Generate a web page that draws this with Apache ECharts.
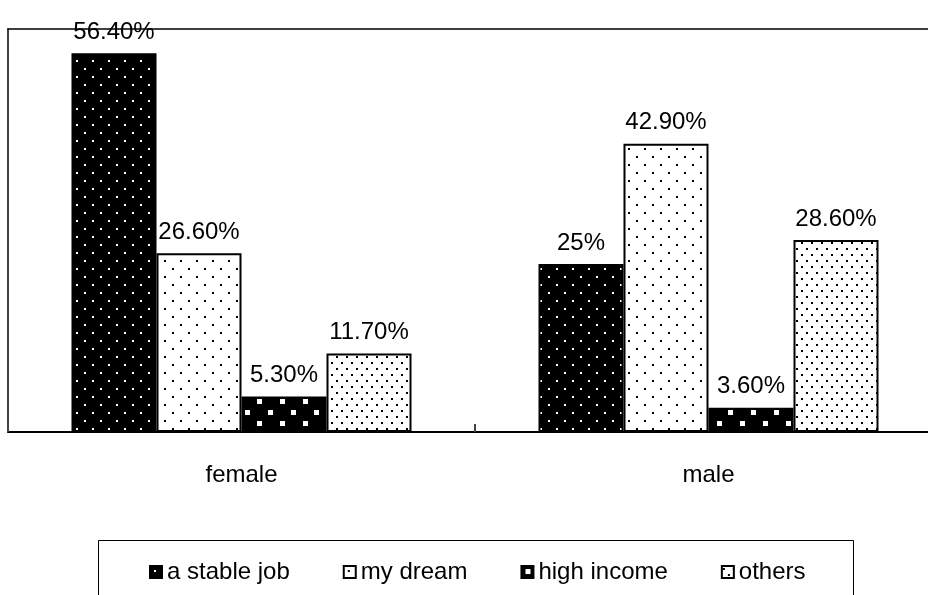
<!DOCTYPE html>
<html>
<head>
<meta charset="utf-8">
<script src="https://cdn.jsdelivr.net/npm/echarts@6/dist/echarts.min.js"></script>
<style>html,body{margin:0;padding:0;background:#fff;overflow:hidden;width:928px;height:595px}#c{width:944px;height:595px}</style>
</head>
<body>
<div id="c"></div>
<script>
var categories = ['female', 'male'];
var seriesNames = ['a stable job', 'my dream', 'high income', 'others'];
var stableJob = [56.4, 25];
var myDream = [26.6, 42.9];
var highIncome = [5.3, 3.6];
var others = [11.7, 28.6];
var stableJobLabels = ['56.40%', '25%'];
var myDreamLabels = ['26.60%', '42.90%'];
var highIncomeLabels = ['5.30%', '3.60%'];
var othersLabels = ['11.70%', '28.60%'];

function makePattern(w, h, bg, fg, dots, size) {
  var c = document.createElement('canvas');
  c.width = w; c.height = h;
  var ctx = c.getContext('2d');
  ctx.fillStyle = bg; ctx.fillRect(0, 0, w, h);
  ctx.fillStyle = fg;
  dots.forEach(function (d) { ctx.fillRect(d[0], d[1], size, size); });
  return { image: c, repeat: 'repeat' };
}
var patStable = makePattern(16, 16, '#000', '#fff', [[4, 4], [12, 12]], 2);
var patDream = makePattern(16, 16, '#fff', '#000', [[4, 4], [12, 12]], 2);
var patHigh = makePattern(23, 22, '#000', '#fff', [[4, 3], [15, 14]], 5);
var patOthers = makePattern(10, 12, '#fff', '#000', [[1, 2], [6, 8]], 2);

var font = 'Liberation Sans, Arial, sans-serif';
function mk(name, data, labels, pat) {
  return {
    name: name, type: 'bar', data: data, barWidth: 85, barGap: '0%',
    itemStyle: { color: pat, borderColor: '#000', borderWidth: 2 },
    label: {
      show: true, position: 'top', distance: 9, color: '#000',
      fontFamily: font, fontSize: 24,
      formatter: function (p) { return labels[p.dataIndex]; }
    }
  };
}

var chart = echarts.init(document.getElementById('c'));
chart.setOption({
  animation: false,
  grid: { left: 8, width: 934, top: 29, height: 403, show: false },
  xAxis: [{
    type: 'category', data: categories, position: 'bottom',
    axisLine: { lineStyle: { color: '#000', width: 2 } },
    axisTick: { show: true, inside: true, length: 8, lineStyle: { color: '#444', width: 2 } },
    axisLabel: { color: '#000', fontFamily: font, fontSize: 24, margin: 31 }
  }, {
    type: 'category', data: categories, position: 'top',
    axisLine: { show: true, lineStyle: { color: '#000', width: 1.5 } },
    axisTick: { show: false }, axisLabel: { show: false }
  }],
  yAxis: {
    type: 'value', min: 0, max: 60,
    axisLine: { show: true, lineStyle: { color: '#000', width: 1.5 } },
    axisTick: { show: false }, axisLabel: { show: false }, splitLine: { show: false }
  },
  legend: {
    data: seriesNames, left: 149, top: 560, padding: 0, icon: 'rect',
    itemWidth: 12, itemHeight: 12, itemGap: 53,
    textStyle: { color: '#000', fontFamily: font, fontSize: 24 }
  },
  graphic: [{
    type: 'rect', shape: { x: 98.5, y: 540.5, width: 755, height: 80 },
    style: { fill: 'none', stroke: '#000', lineWidth: 1 }, silent: true
  }],
  series: [
    mk(seriesNames[0], stableJob, stableJobLabels, patStable),
    mk(seriesNames[1], myDream, myDreamLabels, patDream),
    mk(seriesNames[2], highIncome, highIncomeLabels, patHigh),
    mk(seriesNames[3], others, othersLabels, patOthers)
  ]
});
</script>
</body>
</html>
